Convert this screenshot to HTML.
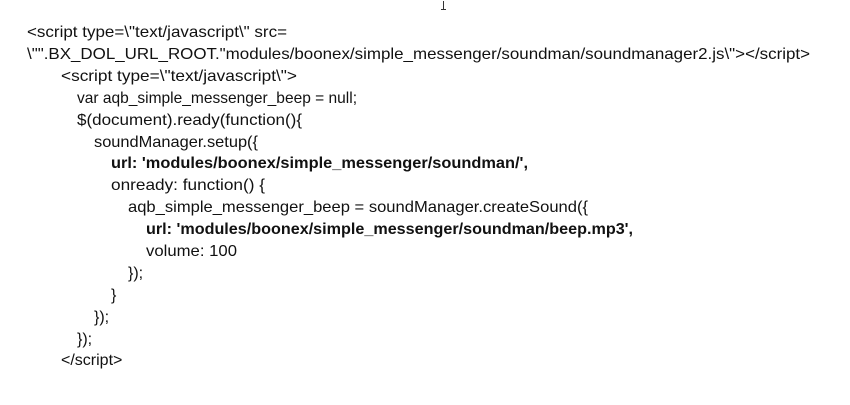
<!DOCTYPE html>
<html><head><meta charset="utf-8"><style>
html,body{margin:0;padding:0;background:#fff;width:850px;height:405px;overflow:hidden}
svg text{font-family:"Liberation Sans",sans-serif;font-size:16px;fill:#111}
.b{font-weight:bold}
</style></head><body>
<svg width="850" height="405" xmlns="http://www.w3.org/2000/svg">
<rect x="443" y="1" width="1" height="9" fill="#333"/>
<rect x="441" y="9" width="5" height="1" fill="#333"/>
<text x="27" y="37" textLength="260" lengthAdjust="spacingAndGlyphs">&lt;script type=\"text/javascript\"  src=</text>
<text x="27" y="59" textLength="783" lengthAdjust="spacingAndGlyphs">\"".BX_DOL_URL_ROOT."modules/boonex/simple_messenger/soundman/soundmanager2.js\"&gt;&lt;/script&gt;</text>
<text x="61" y="81" textLength="236" lengthAdjust="spacingAndGlyphs">&lt;script type=\"text/javascript\"&gt;</text>
<text x="77" y="103" textLength="280" lengthAdjust="spacingAndGlyphs">var aqb_simple_messenger_beep  = null;</text>
<text x="77" y="125" textLength="225" lengthAdjust="spacingAndGlyphs">$(document).ready(function(){</text>
<text x="94" y="147" textLength="164" lengthAdjust="spacingAndGlyphs">soundManager.setup({</text>
<text x="111" y="168" class="b" textLength="417" lengthAdjust="spacingAndGlyphs">url: 'modules/boonex/simple_messenger/soundman/',</text>
<text x="111" y="190" textLength="154" lengthAdjust="spacingAndGlyphs">onready: function() {</text>
<text x="128" y="212" textLength="460" lengthAdjust="spacingAndGlyphs">aqb_simple_messenger_beep  = soundManager.createSound({</text>
<text x="146" y="234" class="b" textLength="487" lengthAdjust="spacingAndGlyphs">url: 'modules/boonex/simple_messenger/soundman/beep.mp3',</text>
<text x="146" y="256" textLength="91" lengthAdjust="spacingAndGlyphs">volume: 100</text>
<text x="128" y="278">});</text>
<text x="111" y="300">}</text>
<text x="94" y="322">});</text>
<text x="77" y="344">});</text>
<text x="61" y="365">&lt;/script&gt;</text>
</svg>
</body></html>
